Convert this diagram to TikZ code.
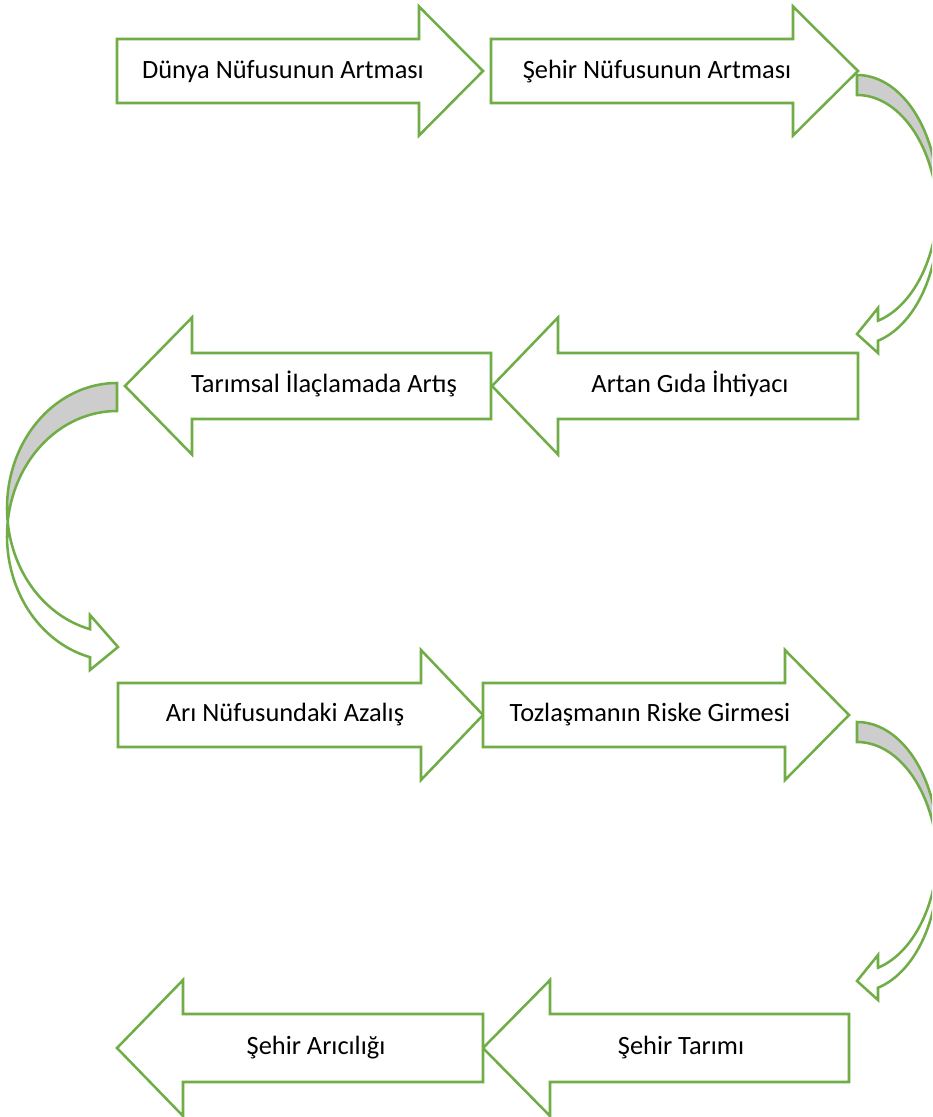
\documentclass[tikz,border=0pt]{standalone}
\usepackage{fontspec}
\setmainfont{Carlito}
\definecolor{ogreen}{RGB}{112,173,71}
\definecolor{backgray}{RGB}{205,205,205}
\tikzset{
  blockarrow/.style={draw=ogreen, line width=1.9pt, fill=white, line join=miter},
  curvearrow/.style={draw=ogreen, line width=1.9pt, line join=miter},
  backfill/.style={fill=backgray},
  lbl/.style={anchor=base, inner sep=0pt, font=\fontsize{19.8pt}{22pt}\selectfont, text=black}
}
% #1 body start x, #2 head base x, #3 tip x, #4 centre y, #5 body half height, #6 head half height
\newcommand{\BlockArrow}[6]{%
  \draw[blockarrow] (#1,{#4-#5}) -- (#2,{#4-#5}) -- (#2,{#4-#6}) -- (#3,#4)
    -- (#2,{#4+#6}) -- (#2,{#4+#5}) -- (#1,{#4+#5}) -- cycle;}
\begin{document}
\begin{tikzpicture}[x=0.75pt,y=-0.75pt]
\useasboundingbox (0,0) rectangle (932,1117);
\clip (0,0) rectangle (932,1117);
\fill[white] (0,0) rectangle (932,1117);

% ---- block arrows ----
\BlockArrow{117}{419}{483}{71}{32}{64.5}
\BlockArrow{491}{793}{858}{71}{32}{64.5}
\BlockArrow{858}{558}{492}{386}{33}{68.5}
\BlockArrow{491}{192}{125}{386}{33}{68.5}
\BlockArrow{118}{421}{483}{715}{32}{65}
\BlockArrow{483}{785}{849}{715}{32}{65}
\BlockArrow{849}{550}{483}{1048}{34}{68}
\BlockArrow{483}{183}{117}{1048}{34}{68}

% ---- labels ----
\node[lbl] (n1) at (283,78) {Dünya Nüfusunun Artması};
\node[lbl] (n2) at (657,78) {Şehir Nüfusunun Artması};
\node[lbl] (n3) at (690,392) {Artan Gıda İhtiyacı};
\node[lbl] (n4) at (324,392) {Tarımsal İlaçlamada Artış};
\node[lbl] (n5) at (285,721) {Arı Nüfusundaki Azalış};
\node[lbl] (n6) at (650,721) {Tozlaşmanın Riske Girmesi};
\node[lbl] (n7) at (681,1054) {Şehir Tarımı};
\node[lbl] (n8) at (316,1054) {Şehir Arıcılığı};

% ---- curved arrow 1 (right side, top) ----
\fill[backfill] plot[domain=0:94.59, samples=60, variable=\t] ({857+81*sin(\t)},{200-125*cos(\t)})
  -- plot[domain=85.41:0, samples=60, variable=\t] ({857+81*sin(\t)},{220-125*cos(\t)}) -- cycle;
\draw[curvearrow] plot[domain=0:164.97, samples=100, variable=\t] ({857+81*sin(\t)},{200-125*cos(\t)})
  -- (878,308) -- (857,334) -- (878,353)
  -- plot[domain=164.97:0, samples=100, variable=\t] ({857+81*sin(\t)},{220-125*cos(\t)}) -- cycle;

% ---- curved arrow 2 (left side) ----
\fill[backfill] plot[domain=0:96.43, samples=60, variable=\t] ({117-110*sin(\t)},{508-125*cos(\t)})
  -- plot[domain=83.57:0, samples=60, variable=\t] ({117-110*sin(\t)},{536-125*cos(\t)}) -- cycle;
\draw[curvearrow] plot[domain=0:165.79, samples=100, variable=\t] ({117-110*sin(\t)},{508-125*cos(\t)})
  -- (90,615) -- (118,647) -- (90,670)
  -- plot[domain=165.79:0, samples=100, variable=\t] ({117-110*sin(\t)},{536-125*cos(\t)}) -- cycle;

% ---- curved arrow 3 (right side, bottom) ----
\fill[backfill] plot[domain=0:94.59, samples=60, variable=\t] ({857+81*sin(\t)},{847-125*cos(\t)})
  -- plot[domain=85.41:0, samples=60, variable=\t] ({857+81*sin(\t)},{867-125*cos(\t)}) -- cycle;
\draw[curvearrow] plot[domain=0:164.97, samples=100, variable=\t] ({857+81*sin(\t)},{847-125*cos(\t)})
  -- (878,955) -- (857,981) -- (878,1000)
  -- plot[domain=164.97:0, samples=100, variable=\t] ({857+81*sin(\t)},{867-125*cos(\t)}) -- cycle;
\end{tikzpicture}
\end{document}
